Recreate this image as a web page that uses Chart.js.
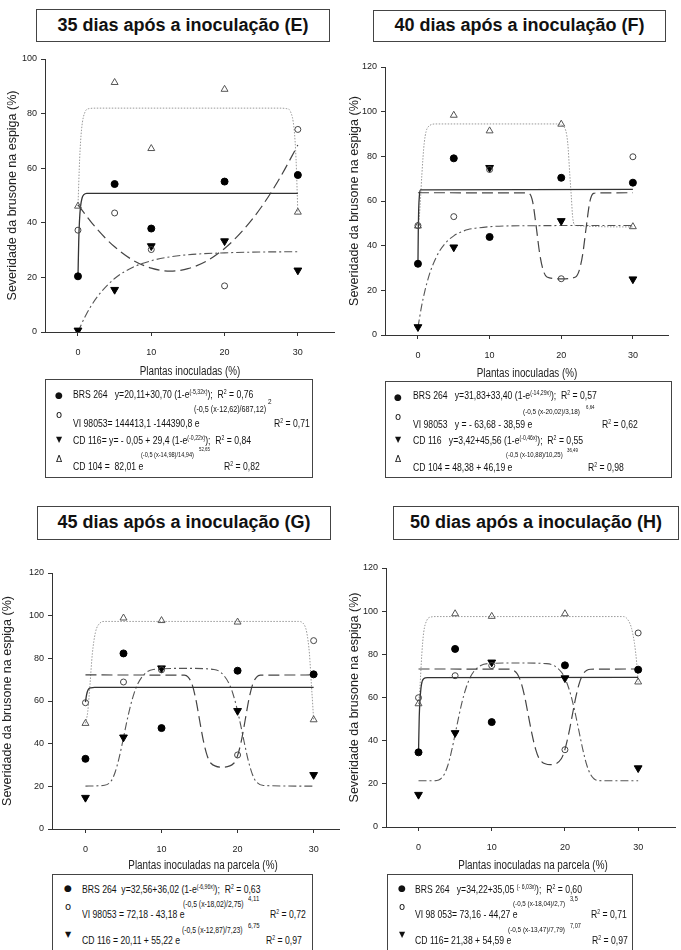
<!DOCTYPE html>
<html>
<head>
<meta charset="utf-8">
<script src="https://cdn.jsdelivr.net/npm/chart.js@4.4.1/dist/chart.umd.min.js"></script>
<style>
body { margin: 0; width: 681px; height: 950px; background: #fff; position: relative; overflow: hidden; font-family: "Liberation Sans", Arial, sans-serif; color: #111; }
canvas { position: absolute; }
.ttl { position: absolute; border: 1.5px solid #444; box-sizing: border-box; font-weight: bold; font-size: 18px; text-align: center; background: #fff; }
.leg { position: absolute; border: 1px solid #444; box-sizing: border-box; background: #fff; }
.t { position: absolute; white-space: nowrap; line-height: 1; color: #111; transform-origin: 0 50%; transform: scaleX(0.8); }
.t sup { font-size: 0.6em; vertical-align: 0.55em; line-height: 0; }
.xt { position: absolute; white-space: nowrap; line-height: 1; font-size: 12px; color: #222; transform-origin: 50% 50%; transform: translate(-50%, -50%) scaleX(0.82); }
.s { position: absolute; line-height: 1; transform: translate(-50%, -50%); color: #111; font-family: "DejaVu Sans", sans-serif; }
</style>
</head>
<body>
<div class="ttl" style="left:36px;top:9px;width:294px;height:33px;line-height:30px">35 dias após a inoculação (E)</div>
<div class="ttl" style="left:373px;top:10px;width:293px;height:32px;line-height:29px">40 dias após a inoculação (F)</div>
<div class="ttl" style="left:37px;top:506px;width:294px;height:34px;line-height:31px">45 dias após a inoculação (G)</div>
<div class="ttl" style="left:393px;top:506px;width:286px;height:34px;line-height:31px">50 dias após a inoculação (H)</div>

<canvas id="chartE" width="340" height="340" style="left:0;top:40px"></canvas>
<canvas id="chartF" width="341" height="340" style="left:340px;top:40px"></canvas>
<canvas id="chartG" width="345" height="330" style="left:0;top:545px"></canvas>
<canvas id="chartH" width="341" height="330" style="left:340px;top:545px"></canvas>

<div class="xt" style="left:190px;top:371px">Plantas inoculadas (%)</div>
<div class="xt" style="left:527px;top:373px">Plantas inoculadas (%)</div>
<div class="xt" style="left:203px;top:865px">Plantas inoculadas na parcela (%)</div>
<div class="xt" style="left:533px;top:865px">Plantas inoculadas na parcela (%)</div>

<div class="leg" style="left:45px;top:379px;width:268px;height:99px"></div>
<div class="leg" style="left:385px;top:381px;width:287px;height:97px"></div>
<div class="leg" style="left:52px;top:874px;width:261px;height:90px"></div>
<div class="leg" style="left:387px;top:874px;width:246px;height:90px"></div>

<script>
// inoculated plants (%) where the points were measured
const doses = [0, 5, 10, 20, 30];
const xTicks = [0, 10, 20, 30];

// 35 dias (E)
const eBrs = [20.4, 54.2, 37.9, 55.1, 57.5];
const eVi = [37.3, 43.6, 30.2, 16.9, 74.2];
const eCd116 = [0.6, 15.5, 31.5, 33.3, 22.6];
const eCd104 = [46.1, 91.4, 67.2, 88.9, 43.9];
const eBrsFitX = [0, 0.1, 0.2, 0.35, 0.55, 0.8, 1.2, 30];
const eBrsFitY = [20.1, 33, 40.5, 46, 49, 50.3, 50.8, 50.8];
const eViFitX = [0, 2.5, 5, 7.5, 10, 12.6, 15, 17.5, 20, 22.5, 25, 27.5, 30];
const eViFitY = [46.6, 38.0, 31.2, 26.3, 23.4, 22.3, 23.2, 25.9, 30.6, 37.2, 45.7, 56.2, 68.5];
const eCd116FitX = [0, 1, 2.5, 5, 7.5, 10, 12.5, 15, 20, 25, 30];
const eCd116FitY = [0, 5.8, 12.4, 19.6, 23.7, 26.1, 27.5, 28.3, 29.0, 29.3, 29.4];
const eCd104FitX = [0, 0.23, 0.48, 0.98, 1.48, 2.5, 27.5, 28.5, 29.0, 29.5, 29.75, 30];
const eCd104FitY = [46.1, 63.5, 74.0, 80.7, 81.8, 82.0, 82.0, 81.8, 80.7, 74.0, 63.5, 43.5];

// 40 dias (F)
const fBrs = [31.9, 79.1, 43.9, 70.4, 68.2];
const fVi = [49.0, 53.0, 74.1, 25.2, 79.8];
const fCd116 = [3.6, 39.3, 74.9, 51.1, 25.0];
const fCd104 = [48.8, 98.4, 91.4, 94.4, 48.5];
const fBrsFitX = [0, 0.05, 0.1, 0.2, 0.35, 30];
const fBrsFitY = [31.8, 47.7, 56.1, 62.4, 65.0, 65.2];
const fViFitX = [0, 15, 15.5, 16, 16.5, 17, 17.5, 18, 20, 22, 22.5, 23, 23.5, 24, 24.5, 25, 30];
const fViFitY = [63.7, 63.6, 63.4, 59.8, 48.7, 36.2, 28.8, 26.0, 25.1, 26.0, 28.8, 36.2, 48.7, 59.8, 63.4, 63.6, 63.7];
const fCd116FitX = [0, 0.5, 1, 1.5, 2, 3, 4, 5, 6, 7, 8, 10, 12, 15, 20, 30];
const fCd116FitY = [3.4, 12.8, 20.2, 26.1, 30.8, 37.5, 41.7, 44.4, 46.1, 47.2, 47.8, 48.5, 48.8, 48.9, 49.0, 49.0];
const fCd104FitX = [0, 0.18, 0.38, 0.54, 0.88, 1.4, 2.5, 19.3, 20.4, 20.9, 21.2, 21.4, 21.6, 22.0, 30];
const fCd104FitY = [49.0, 52.6, 62.2, 71.5, 86.1, 93.1, 94.5, 94.5, 93.1, 86.1, 71.5, 62.2, 52.6, 49.0, 48.4];

// 45 dias (G)
const gBrs = [32.9, 82.3, 47.3, 74.2, 72.5];
const gVi = [59.2, 68.9, 74.6, 34.7, 88.3];
const gCd116 = [14.7, 43.0, 75.4, 55.4, 25.4];
const gCd104 = [49.5, 98.9, 97.7, 97.0, 51.2];
const gBrsFitX = [0, 0.15, 0.35, 0.7, 1.2, 30];
const gBrsFitY = [59.5, 63.0, 65.3, 66.2, 66.4, 66.4];
const gViFitX = [0, 13, 13.5, 14, 14.5, 15, 15.5, 16, 16.5, 18, 19.5, 20, 20.5, 21, 21.5, 22, 22.5, 23, 30];
const gViFitY = [72.2, 72.1, 71.2, 68.0, 61.0, 51.1, 41.4, 34.4, 30.8, 29.0, 30.8, 34.4, 41.4, 51.1, 61.0, 68.0, 71.2, 72.1, 72.2];
const gCd116FitX = [0, 2.5, 3.4, 3.9, 4.4, 4.9, 5.4, 5.9, 6.4, 6.9, 7.9, 8.9, 12.9, 16.9, 17.9, 18.9, 19.4, 19.9, 20.4, 20.9, 21.4, 21.9, 22.4, 23.4, 30];
const gCd116FitY = [20.1, 20.5, 22.6, 26.6, 33.0, 41.1, 49.7, 57.5, 63.7, 68.2, 73.1, 74.8, 75.3, 74.8, 73.1, 68.0, 63.3, 56.8, 48.8, 40.2, 32.2, 26.1, 22.4, 20.4, 20.1];
const gCd104FitX = [0, 0.3, 0.6, 0.9, 1.3, 1.9, 2.5, 28, 28.6, 29.1, 29.45, 29.7, 29.9, 30];
const gCd104FitY = [49.5, 55, 68, 82, 92, 96.5, 97.3, 97.3, 96.5, 92, 82, 68, 57, 51];

// 50 dias (H)
const hBrs = [34.6, 82.5, 48.6, 74.9, 72.9];
const hVi = [59.9, 70.1, 74.8, 35.8, 89.9];
const hCd116 = [15.0, 43.6, 76.3, 69.0, 27.3];
const hCd104 = [57.1, 98.8, 97.6, 98.8, 67.2];
const hBrsFitX = [0, 0.1, 0.2, 0.4, 0.7, 1.2, 30];
const hBrsFitY = [34.2, 51.0, 58.6, 66.0, 68.7, 69.2, 69.3];
const hViFitX = [0, 12.5, 13, 13.5, 14, 14.5, 15, 15.5, 16, 16.5, 18, 19.5, 20, 20.5, 21, 21.5, 22, 22.5, 23, 23.5, 30];
const hViFitY = [73.2, 73.1, 72.6, 70.9, 67.0, 60.4, 51.7, 43.0, 36.0, 31.6, 28.9, 31.6, 36.0, 43.0, 51.7, 60.4, 67.0, 70.9, 72.6, 73.1, 73.2];
const hCd116FitX = [0, 1.5, 2.5, 3, 3.5, 4, 4.5, 5, 5.5, 6, 6.5, 7, 7.5, 8.5, 9.5, 13.5, 17.5, 18.5, 19.5, 20, 20.5, 21, 21.5, 22, 22.5, 23, 23.5, 24, 24.5, 25.5, 30];
const hCd116FitY = [21.4, 21.4, 21.55, 22.25, 24.3, 28.5, 35.0, 43.0, 51.2, 58.6, 64.5, 68.9, 71.8, 74.8, 75.7, 76.0, 75.7, 74.8, 71.8, 68.9, 64.5, 58.6, 51.2, 43.0, 35.0, 28.5, 24.3, 22.25, 21.55, 21.4, 21.4];
const hCd104FitX = [0, 0.2, 0.45, 0.7, 1.1, 1.7, 2.5, 28, 28.6, 29.1, 29.5, 29.8, 30];
const hCd104FitY = [57.0, 65, 80, 90, 95.5, 97.3, 97.5, 97.5, 96, 92, 85, 76, 67];

Chart.defaults.font.family = '"Liberation Sans", Arial, sans-serif';
Chart.defaults.color = '#222';

// marker / line looks
const markBrs = {pointStyle: 'circle', pointRadius: 3.5, pointBackgroundColor: '#000', pointBorderColor: '#000', pointBorderWidth: 1};
const markVi = {pointStyle: 'circle', pointRadius: 3, pointBackgroundColor: 'rgba(0,0,0,0)', pointBorderColor: '#444', pointBorderWidth: 1};
const markCd116 = {pointStyle: 'triangle', pointRotation: 180, pointRadius: 4.5, pointBackgroundColor: '#000', pointBorderColor: '#000', pointBorderWidth: 1};
const markCd104 = {pointStyle: 'triangle', pointRadius: 4, pointBackgroundColor: 'rgba(0,0,0,0)', pointBorderColor: '#555', pointBorderWidth: 1};
const lineBrs = {borderColor: '#333', borderWidth: 1.3};
const lineVi = {borderColor: '#444', borderWidth: 1.2, borderDash: [11, 5]};
const lineCd116 = {borderColor: '#555', borderWidth: 1.1, borderDash: [8, 3, 2, 3]};
const lineCd104 = {borderColor: '#999', borderWidth: 1, borderDash: [1.5, 1.5]};

function toPts(xs, ys) {
   return xs.map(function(x, i) { return {x: x, y: ys[i]}; });
}
function pointSet(label, ys, look) {
   return Object.assign({label: label, data: toPts(doses, ys), showLine: false}, look);
}
function fitSet(label, xs, ys, look) {
   return Object.assign({label: label, data: toPts(xs, ys), showLine: true, pointRadius: 0,
      cubicInterpolationMode: 'monotone', fill: false}, look);
}

function makePanel(id, p) {
   // first dataset is drawn last, so markers go first
   const datasets = [
      pointSet('BRS 264', p.brs, markBrs),
      pointSet('VI 98053', p.vi, markVi),
      pointSet('CD 116', p.cd116, markCd116),
      pointSet('CD 104', p.cd104, markCd104),
      fitSet('BRS 264 fit', p.brsFit[0], p.brsFit[1], lineBrs),
      fitSet('VI 98053 fit', p.viFit[0], p.viFit[1], lineVi),
      fitSet('CD 116 fit', p.cd116Fit[0], p.cd116Fit[1], lineCd116),
      fitSet('CD 104 fit', p.cd104Fit[0], p.cd104Fit[1], lineCd104)
   ];
   const axisGrid = {drawOnChartArea: false, drawTicks: true, tickLength: 4, color: '#333'};
   const config = {
      type: 'scatter',
      data: {datasets: datasets},
      options: {
         responsive: false,
         animation: false,
         devicePixelRatio: 1,
         layout: {padding: {top: p.padTop, right: p.padRight, left: 0, bottom: 0}},
         plugins: {legend: {display: false}, tooltip: {enabled: false}},
         scales: {
            x: {
               type: 'linear', min: p.xMin, max: p.xMax,
               afterBuildTicks: function(s) { s.ticks = xTicks.map(function(v) { return {value: v}; }); },
               afterFit: function(s) { s.height = p.xHeight; },
               grid: axisGrid,
               border: {color: '#333', width: 1},
               ticks: {padding: 11, maxRotation: 0, font: {size: 9}, color: '#222'}
            },
            y: {
               type: 'linear', min: 0, max: p.yMax,
               afterFit: function(s) { s.width = p.yWidth; },
               grid: axisGrid,
               border: {color: '#333', width: 1},
               ticks: {stepSize: 20, padding: 4, font: {size: 9}, color: '#222'},
               title: {display: true, text: 'Severidade da brusone na espiga (%)', color: '#222',
                  font: {size: 12.5}, padding: {top: p.yTitlePad, bottom: 0}}
            }
         }
      }
   };
   return new Chart(document.getElementById(id), config);
}

makePanel('chartE', {
   brs: eBrs, vi: eVi, cd116: eCd116, cd104: eCd104,
   brsFit: [eBrsFitX, eBrsFitY], viFit: [eViFitX, eViFitY],
   cd116Fit: [eCd116FitX, eCd116FitY], cd104Fit: [eCd104FitX, eCd104FitY],
   xMin: -4.5, xMax: 35, yMax: 100, yWidth: 45, xHeight: 48, padTop: 19, padRight: 5, yTitlePad: 5.5
});
makePanel('chartF', {
   brs: fBrs, vi: fVi, cd116: fCd116, cd104: fCd104,
   brsFit: [fBrsFitX, fBrsFitY], viFit: [fViFitX, fViFitY],
   cd116Fit: [fCd116FitX, fCd116FitY], cd104Fit: [fCd104FitX, fCd104FitY],
   xMin: -4.6, xMax: 34.9, yMax: 120, yWidth: 45, xHeight: 45, padTop: 27, padRight: 13, yTitlePad: 7.5
});
makePanel('chartG', {
   brs: gBrs, vi: gVi, cd116: gCd116, cd104: gCd104,
   brsFit: [gBrsFitX, gBrsFitY], viFit: [gViFitX, gViFitY],
   cd116Fit: [gCd116FitX, gCd116FitY], cd104Fit: [gCd104FitX, gCd104FitY],
   xMin: -4.4, xMax: 33.4, yMax: 120, yWidth: 52, xHeight: 46, padTop: 28, padRight: 2, yTitlePad: 0
});
makePanel('chartH', {
   brs: hBrs, vi: hVi, cd116: hCd116, cd104: hCd104,
   brsFit: [hBrsFitX, hBrsFitY], viFit: [hViFitX, hViFitY],
   cd116Fit: [hCd116FitX, hCd116FitY], cd104Fit: [hCd104FitX, hCd104FitY],
   xMin: -4.44, xMax: 35.1, yMax: 120, yWidth: 46, xHeight: 48, padTop: 23, padRight: 1, yTitlePad: 7.5
});

// equation boxes: [left, baseline, font size, text]
const legendText = [
   [73, 398, 10.8, 'BRS 264&nbsp;&nbsp; y=20,11+30,70 (1-e<sup>(-5,32x)</sup>);&nbsp; R<sup>2</sup> = 0,76'],
   [73, 427, 10.8, 'VI 98053= 144413,1 -144390,8 e'],
   [194, 413, 9, '(-0,5 (x-12,62)/687,12)'],
   [268, 405, 8, '2'],
   [274, 427, 10.8, 'R<sup>2</sup> = 0,71'],
   [73, 444, 10.8, 'CD 116= y= - 0,05 + 29,4 (1-e<sup>(-0,22x)</sup>);&nbsp; R<sup>2</sup> = 0,84'],
   [73, 470, 10.8, 'CD 104 =&nbsp; 82,01 e'],
   [141, 457, 7, '(-0,5 (x-14,98)/14,94)'],
   [199, 452, 5.5, '52,65'],
   [224, 470, 10.8, 'R<sup>2</sup> = 0,82'],

   [413, 399, 10.8, 'BRS 264&nbsp;&nbsp; y=31,83+33,40 (1-e<sup>(-14,29x)</sup>);&nbsp; R<sup>2</sup> = 0,57'],
   [413, 428, 10.8, 'VI 98053&nbsp;&nbsp; y = - 63,68 - 38,59 e'],
   [523, 415, 8, '(-0,5 (x-20,02)/3,18)'],
   [586, 410, 5.5, '6,64'],
   [602, 428, 10.8, 'R<sup>2</sup> = 0,62'],
   [413, 444, 10.8, 'CD 116&nbsp;&nbsp; y=3,42+45,56 (1-e<sup>(-0,46x)</sup>);&nbsp; R<sup>2</sup> = 0,55'],
   [413, 471, 10.8, 'CD 104 = 48,38 + 46,19 e'],
   [506, 457, 7.5, '(-0,5 (x-10,88)/10,25)'],
   [567, 453, 5.5, '36,49'],
   [588, 471, 10.8, 'R<sup>2</sup> = 0,98'],

   [82, 893, 10.8, 'BRS 264&nbsp; y=32,56+36,02 (1-e<sup>(-6,96x)</sup>);&nbsp; R<sup>2</sup> = 0,63'],
   [82, 918, 10.8, 'VI 98053 = 72,18 - 43,18 e'],
   [183, 907, 8.5, '(-0,5 (x-18,02)/2,75)'],
   [248, 901, 7.5, '4,11'],
   [270, 918, 10.8, 'R<sup>2</sup> = 0,72'],
   [82, 944, 10.8, 'CD 116 = 20,11 + 55,22 e'],
   [182, 933, 8.5, '(-0,5 (x-12,87)/7,23)'],
   [248, 928, 7.5, '6,75'],
   [266, 944, 10.8, 'R<sup>2</sup> = 0,97'],

   [415, 893, 10.8, 'BRS 264&nbsp;&nbsp; y=34,22+35,05 <sup>(- 6,03x)</sup>);&nbsp; R<sup>2</sup> = 0,60'],
   [415, 918, 10.8, 'VI 98 053= 73,16 - 44,27 e'],
   [513, 907, 7.8, '(-0,5 (x-18,04)/2,7)'],
   [570, 901, 7, '3,5'],
   [591, 918, 10.8, 'R<sup>2</sup> = 0,71'],
   [415, 944, 10.8, 'CD 116= 21,38 + 54,59 e'],
   [508, 933, 8, '(-0,5 (x-13,47)/7,79)'],
   [570, 928, 7, '7,07'],
   [592, 944, 10.8, 'R<sup>2</sup> = 0,97']
];
// legend symbols: [centre x, centre y, glyph, size]
const legendMarks = [
   [59, 395, '\u25CF', 9], [59, 415, 'o', 10], [59, 440, '\u25BC', 8], [59, 459, '\u0394', 9],
   [398, 397, '\u25CF', 9], [398, 417, 'o', 10], [398, 440, '\u25BC', 8], [398, 459, '\u0394', 9],
   [68, 888, '\u25CF', 9], [68, 907, 'o', 10], [68, 935, '\u25BC', 8],
   [402, 888, '\u25CF', 9], [402, 907, 'o', 10], [402, 935, '\u25BC', 8]
];
legendText.forEach(function(t) {
   const el = document.createElement('div');
   el.className = 't';
   el.style.left = t[0] + 'px';
   el.style.top = (t[1] - t[2] * 0.85) + 'px';
   el.style.fontSize = t[2] + 'px';
   el.innerHTML = t[3];
   document.body.appendChild(el);
});
legendMarks.forEach(function(m) {
   const el = document.createElement('div');
   el.className = 's';
   el.style.left = m[0] + 'px';
   el.style.top = m[1] + 'px';
   el.style.fontSize = m[3] + 'px';
   el.textContent = m[2];
   document.body.appendChild(el);
});
</script>
</body>
</html>
